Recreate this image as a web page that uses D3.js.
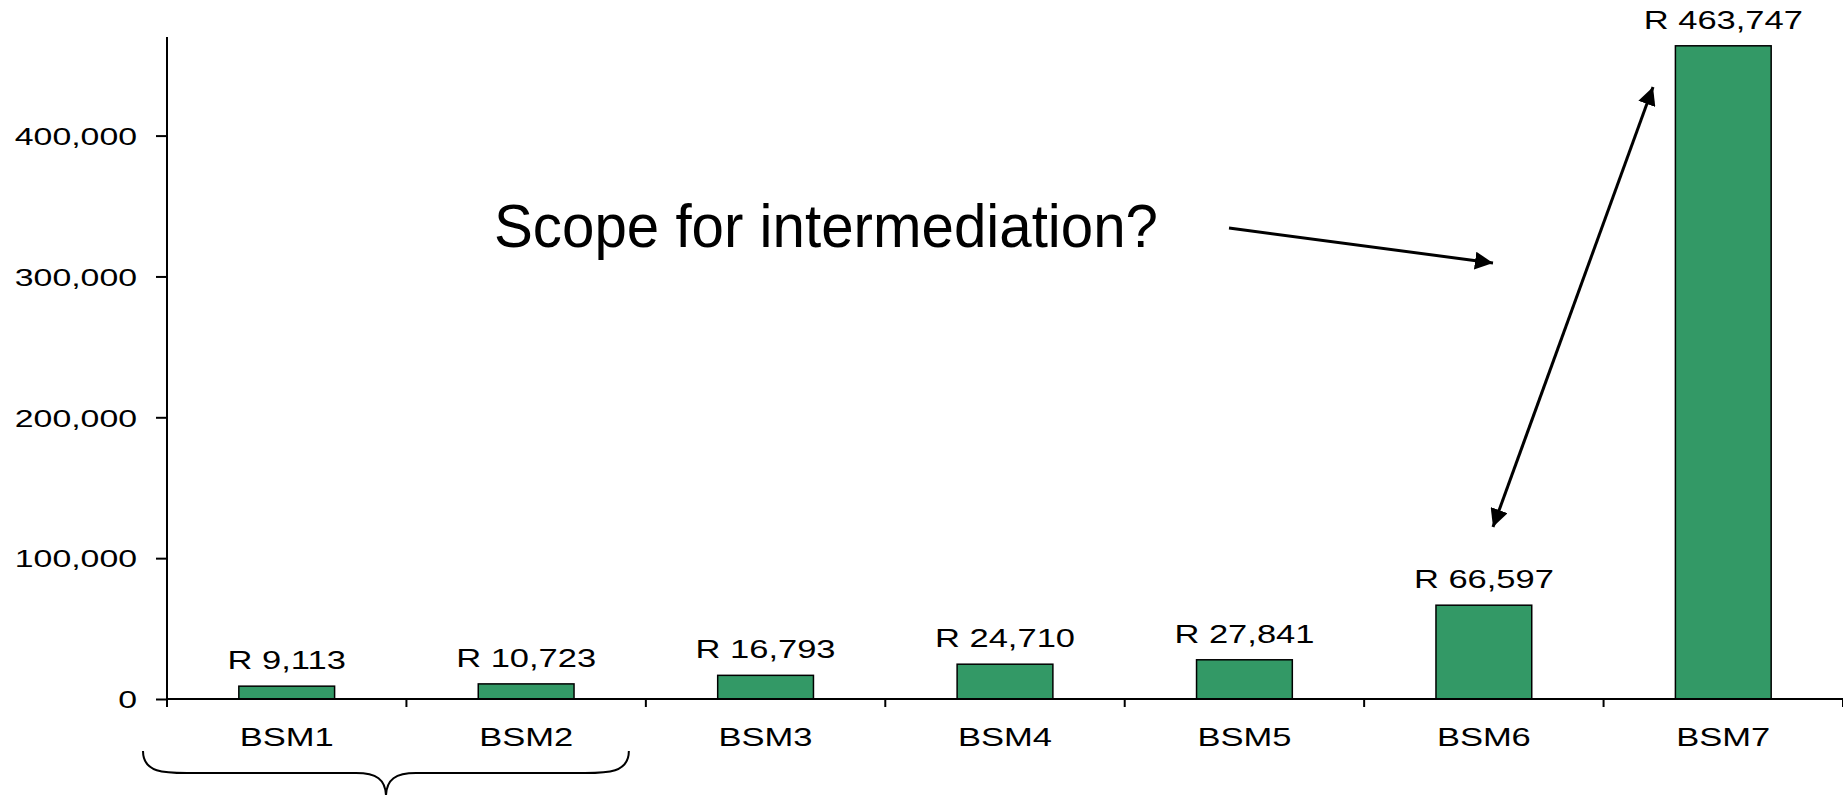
<!DOCTYPE html>
<html>
<head>
<meta charset="utf-8">
<script src="https://cdn.jsdelivr.net/npm/d3@7"></script>
<style>
  html, body { margin: 0; padding: 0; background: #fff; }
  svg { display: block; }
  text { font-family: "Liberation Sans", Arial, Helvetica, sans-serif; fill: #000; }
</style>
</head>
<body>
<svg id="chart" width="1843" height="795"></svg>
<script>
// Annual value per borrower segment (Rand)
const categories = ["BSM1", "BSM2", "BSM3", "BSM4", "BSM5", "BSM6", "BSM7"];
const values = [9113, 10723, 16793, 24710, 27841, 66597, 463747];
const yTickValues = [0, 100000, 200000, 300000, 400000];
const yTickLabels = ["0", "100,000", "200,000", "300,000", "400,000"];
const annotationText = "Scope for intermediation?";

const W = 1843, H = 795;
const axisX = 167, axisY = 699, axisTop = 37;
const stretch = 1.38;          // horizontally widened chart lettering
const barColor = "#339966";

const svg = d3.select("#chart");

const x = d3.scaleBand().domain(categories).range([axisX, W]).padding(0);
const y = d3.scaleLinear().domain([0, 470000]).range([axisY, axisTop]);
const step = x.step();
const barW = step * 0.4;

// widen a text element about its own anchor point
function widen(sel, sx) {
  sel.each(function () {
    const t = d3.select(this);
    const tx = +t.attr("x") || 0, ty = +t.attr("y") || 0;
    t.attr("x", 0).attr("y", 0)
     .attr("transform", `translate(${tx},${ty}) scale(${sx},1)`);
  });
}

// y axis
const yAxis = d3.axisLeft(y)
  .tickValues(yTickValues)
  .tickFormat((d, i) => yTickLabels[i])
  .tickSize(11)
  .tickSizeOuter(0)
  .tickPadding(19);
const gy = svg.append("g").attr("transform", `translate(${axisX},0)`).call(yAxis);
gy.select(".domain").remove();
gy.selectAll(".tick line").attr("stroke", "#000").attr("stroke-width", 2);
gy.selectAll(".tick text")
  .attr("font-size", 24.5)
  .attr("dy", "0.36em")
  .call(widen, stretch);
svg.append("line")
  .attr("x1", axisX).attr("x2", axisX)
  .attr("y1", axisTop).attr("y2", axisY)
  .attr("stroke", "#000").attr("stroke-width", 2);

// bars
svg.append("g").selectAll("rect")
  .data(values)
  .join("rect")
  .attr("x", (d, i) => x(categories[i]) + (step - barW) / 2)
  .attr("width", barW)
  .attr("y", d => y(d))
  .attr("height", d => y(0) - y(d))
  .attr("fill", barColor)
  .attr("stroke", "#000")
  .attr("stroke-width", 1.5);

// value labels
const fmt = d3.format(",");
svg.append("g").selectAll("text")
  .data(values)
  .join("text")
  .attr("x", (d, i) => x(categories[i]) + step / 2)
  .attr("y", d => y(d) - 17)
  .attr("text-anchor", "middle")
  .attr("font-size", 25)
  .text(d => "R " + fmt(d))
  .call(widen, stretch);

// x axis: baseline, boundary ticks and centred category labels
svg.append("line")
  .attr("x1", axisX).attr("x2", W)
  .attr("y1", axisY).attr("y2", axisY)
  .attr("stroke", "#000").attr("stroke-width", 2);
const bounds = categories.map(c => x(c)).concat([x.range()[1]]);
svg.append("g").selectAll("line")
  .data(bounds)
  .join("line")
  .attr("x1", d => d).attr("x2", d => d)
  .attr("y1", axisY).attr("y2", axisY + 8)
  .attr("stroke", "#000").attr("stroke-width", 2);
svg.append("g").selectAll("text")
  .data(categories)
  .join("text")
  .attr("x", d => x(d) + step / 2)
  .attr("y", axisY + 47)
  .attr("text-anchor", "middle")
  .attr("font-size", 25)
  .text(d => d)
  .call(widen, stretch);

// brace grouping BSM1 and BSM2
const bL = x("BSM1") - 24, bR = x("BSM2") + step - 17, bM = 386;
const bTop = 751, bMid = 773, bTip = 797;
svg.append("path")
  .attr("d", `M${bL},${bTop} C${bL},${bMid} ${bL + 22},${bMid} ${bL + 44},${bMid}
              L${bM - 30},${bMid} C${bM - 10},${bMid} ${bM},${bMid + 6} ${bM},${bTip}
              C${bM},${bMid + 6} ${bM + 10},${bMid} ${bM + 30},${bMid}
              L${bR - 44},${bMid} C${bR - 22},${bMid} ${bR},${bMid} ${bR},${bTop}`)
  .attr("fill", "none")
  .attr("stroke", "#000")
  .attr("stroke-width", 2);

// annotation
svg.append("text")
  .attr("x", 494)
  .attr("y", 247)
  .attr("font-size", 61)
  .attr("textLength", 664)
  .attr("lengthAdjust", "spacingAndGlyphs")
  .text(annotationText);

const defs = svg.append("defs");
function head(id, orient) {
  defs.append("marker")
    .attr("id", id)
    .attr("viewBox", "0 0 18 18")
    .attr("refX", 18).attr("refY", 9)
    .attr("markerWidth", 18).attr("markerHeight", 18)
    .attr("markerUnits", "userSpaceOnUse")
    .attr("orient", orient)
    .append("path")
    .attr("d", "M0,0 L18,9 L0,18 Z")
    .attr("fill", "#000");
}
head("arrowEnd", "auto");
head("arrowStart", "auto-start-reverse");

svg.append("line")
  .attr("x1", 1229).attr("y1", 228)
  .attr("x2", 1493).attr("y2", 263)
  .attr("stroke", "#000").attr("stroke-width", 3)
  .attr("marker-end", "url(#arrowEnd)");

svg.append("line")
  .attr("x1", 1493).attr("y1", 527)
  .attr("x2", 1653).attr("y2", 87)
  .attr("stroke", "#000").attr("stroke-width", 3)
  .attr("marker-start", "url(#arrowStart)")
  .attr("marker-end", "url(#arrowEnd)");
</script>
</body>
</html>
